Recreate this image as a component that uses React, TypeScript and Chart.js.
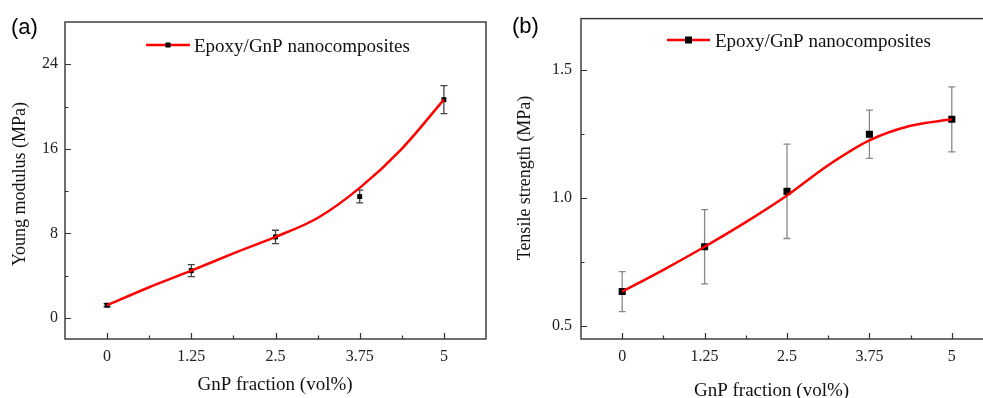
import React, { useEffect, useRef } from 'react';
import { Chart, registerables } from 'chart.js';

Chart.register(...registerables);

// ---------- data ----------
const xValues = [0, 1.25, 2.5, 3.75, 5];
const xTickLabels = ['0', '1.25', '2.5', '3.75', '5'];
const xMinorTicks = [0.625, 1.875, 3.125, 4.375];

const modulusValues = [1.2, 4.47, 7.66, 11.48, 20.65];
const modulusErrors = [0.15, 0.57, 0.63, 0.6, 1.32];
const modulusFitX = [0, 0.625, 1.25, 1.875, 2.5, 3.125, 3.75, 4.375, 5];
const modulusFitY = [1.2, 2.9, 4.47, 6.1, 7.66, 9.45, 12.3, 16.0, 20.65];
const modulusTicks = [0, 8, 16, 24];
const modulusTickLabels = ['0', '8', '16', '24'];
const modulusMinorTicks = [4, 12, 20];

const strengthValues = [0.635, 0.81, 1.026, 1.249, 1.307];
const strengthErrors = [0.078, 0.145, 0.184, 0.094, 0.127];
const strengthFitX = [0, 0.625, 1.25, 1.875, 2.5, 3.125, 3.75, 4.375, 5];
const strengthFitY = [0.635, 0.72, 0.81, 0.906, 1.01, 1.128, 1.225, 1.282, 1.307];
const strengthTicks = [0.5, 1.0, 1.5];
const strengthTickLabels = ['0.5', '1.0', '1.5'];
const strengthMinorTicks = [0.75, 1.25];

const seriesName = 'Epoxy/GnP nanocomposites';
const xTitle = 'GnP fraction (vol%)';

const SERIF = '"Liberation Serif", "Times New Roman", serif';
const SANS = '"Liberation Sans", Arial, sans-serif';

type PanelSpec = {
  left: number;
  width: number;
  height: number;
  area: { left: number; top: number; right: number; bottom: number };
  yMin: number;
  yMax: number;
  yTicks: number[];
  yTickLabels: string[];
  yMinor: number[];
  yTickPad: number;
  yTitle: string;
  yTitlePos: [number, number];
  xTitlePos: [number, number];
  values: number[];
  errors: number[];
  fitX: number[];
  fitY: number[];
  markerRadius: number;
  errColor: string;
  legend: { x1: number; x2: number; y: number; textX: number; textY: number; marker: number };
  tag: string;
  tagPos: [number, number];
};

const panels: PanelSpec[] = [
  {
    left: 0,
    width: 490,
    height: 398,
    area: { left: 65, top: 22, right: 488, bottom: 339 },
    yMin: -2,
    yMax: 28,
    yTicks: modulusTicks,
    yTickLabels: modulusTickLabels,
    yMinor: modulusMinorTicks,
    yTickPad: 7,
    yTitle: 'Young modulus (MPa)',
    yTitlePos: [20, 184],
    xTitlePos: [275, 385],
    values: modulusValues,
    errors: modulusErrors,
    fitX: modulusFitX,
    fitY: modulusFitY,
    markerRadius: 3.5,
    errColor: '#444',
    legend: { x1: 146, x2: 190, y: 45, textX: 194, textY: 52, marker: 5 },
    tag: '(a)',
    tagPos: [11, 28],
  },
  {
    left: 490,
    width: 508,
    height: 398,
    area: { left: 91, top: 15, right: 505.5, bottom: 339 },
    yMin: 0.45,
    yMax: 1.7,
    yTicks: strengthTicks,
    yTickLabels: strengthTickLabels,
    yMinor: strengthMinorTicks,
    yTickPad: 9,
    yTitle: 'Tensile strength (MPa)',
    yTitlePos: [35, 178],
    xTitlePos: [281.5, 391],
    values: strengthValues,
    errors: strengthErrors,
    fitX: strengthFitX,
    fitY: strengthFitY,
    markerRadius: 5,
    errColor: '#888',
    legend: { x1: 177, x2: 220, y: 40, textX: 225, textY: 47, marker: 7 },
    tag: '(b)',
    tagPos: [22, 27],
  },
];

function makeConfig(p: PanelSpec): any {
  const overlay = {
    id: 'overlay',
    beforeDatasetsDraw(chart: any) {
      const ctx = chart.ctx;
      const xs = chart.scales.x;
      const ys = chart.scales.y;
      ctx.save();
      ctx.strokeStyle = p.errColor;
      ctx.lineWidth = 1.3;
      const cap = 3.5;
      p.values.forEach((v, i) => {
        const x = xs.getPixelForValue(xValues[i]);
        const yt = ys.getPixelForValue(v + p.errors[i]);
        const yb = ys.getPixelForValue(v - p.errors[i]);
        ctx.beginPath();
        ctx.moveTo(x, yt);
        ctx.lineTo(x, yb);
        ctx.moveTo(x - cap, yt);
        ctx.lineTo(x + cap, yt);
        ctx.moveTo(x - cap, yb);
        ctx.lineTo(x + cap, yb);
        ctx.stroke();
      });
      ctx.restore();
    },
    afterDraw(chart: any) {
      const ctx = chart.ctx;
      const a = chart.chartArea;
      const xs = chart.scales.x;
      const ys = chart.scales.y;
      ctx.save();
      // frame
      ctx.strokeStyle = '#333';
      ctx.lineWidth = 1.4;
      ctx.strokeRect(a.left, a.top, a.right - a.left, a.bottom - a.top);
      // ticks (inward)
      ctx.lineWidth = 1.2;
      ctx.beginPath();
      xValues.forEach((v) => {
        const x = Math.round(xs.getPixelForValue(v)) + 0.5;
        ctx.moveTo(x, a.bottom);
        ctx.lineTo(x, a.bottom - 6);
      });
      xMinorTicks.forEach((v) => {
        const x = Math.round(xs.getPixelForValue(v)) + 0.5;
        ctx.moveTo(x, a.bottom);
        ctx.lineTo(x, a.bottom - 3.5);
      });
      p.yTicks.forEach((v) => {
        const y = Math.round(ys.getPixelForValue(v)) + 0.5;
        ctx.moveTo(a.left, y);
        ctx.lineTo(a.left + 6, y);
      });
      p.yMinor.forEach((v) => {
        const y = Math.round(ys.getPixelForValue(v)) + 0.5;
        ctx.moveTo(a.left, y);
        ctx.lineTo(a.left + 3.5, y);
      });
      ctx.stroke();

      // legend
      const L = p.legend;
      ctx.strokeStyle = '#ff0000';
      ctx.lineWidth = 2.5;
      ctx.beginPath();
      ctx.moveTo(L.x1, L.y);
      ctx.lineTo(L.x2, L.y);
      ctx.stroke();
      ctx.fillStyle = '#000';
      const mx = (L.x1 + L.x2) / 2;
      ctx.fillRect(mx - L.marker / 2, L.y - L.marker / 2, L.marker, L.marker);
      ctx.fillStyle = '#111';
      ctx.font = `19px ${SERIF}`;
      ctx.textAlign = 'left';
      ctx.textBaseline = 'alphabetic';
      ctx.fillText(seriesName, L.textX, L.textY);

      // axis titles
      ctx.textAlign = 'center';
      ctx.textBaseline = 'middle';
      ctx.font = `19px ${SERIF}`;
      ctx.fillText(xTitle, p.xTitlePos[0], p.xTitlePos[1]);
      ctx.save();
      ctx.translate(p.yTitlePos[0], p.yTitlePos[1]);
      ctx.rotate(-Math.PI / 2);
      ctx.font = `18px ${SERIF}`;
      ctx.fillText(p.yTitle, 0, 0);
      ctx.restore();

      // panel tag
      ctx.fillStyle = '#000';
      ctx.font = `22px ${SANS}`;
      ctx.textAlign = 'left';
      ctx.textBaseline = 'middle';
      ctx.fillText(p.tag, p.tagPos[0], p.tagPos[1]);
      ctx.restore();
    },
  };

  return {
    type: 'line',
    data: {
      datasets: [
        {
          label: seriesName + ' fit',
          data: p.fitX.map((x, i) => ({ x, y: p.fitY[i] })),
          borderColor: '#ff0000',
          borderWidth: 2.5,
          pointRadius: 0,
          fill: false,
          tension: 0.4,
          cubicInterpolationMode: 'monotone',
        },
        {
          label: seriesName,
          type: 'scatter',
          data: xValues.map((x, i) => ({ x, y: p.values[i] })),
          showLine: false,
          pointStyle: 'rect',
          pointRadius: p.markerRadius,
          backgroundColor: '#000',
          borderColor: '#000',
          borderWidth: 0,
        },
      ],
    },
    options: {
      responsive: false,
      animation: false,
      devicePixelRatio: 1,
      layout: {
        padding: {
          left: 0,
          top: p.area.top,
          right: p.width - p.area.right,
          bottom: 0,
        },
      },
      plugins: {
        legend: { display: false },
        tooltip: { enabled: false },
      },
      scales: {
        x: {
          type: 'linear',
          min: -0.625,
          max: 5.625,
          afterBuildTicks: (s: any) => {
            s.ticks = xValues.map((v) => ({ value: v }));
          },
          afterFit: (s: any) => {
            s.height = p.height - p.area.bottom;
          },
          ticks: {
            autoSkip: false,
            maxRotation: 0,
            padding: 8,
            color: '#222',
            font: { family: SERIF, size: 16 },
            callback: (_v: any, i: number) => xTickLabels[i],
          },
          grid: { display: false, drawTicks: false },
          border: { display: false },
        },
        y: {
          type: 'linear',
          min: p.yMin,
          max: p.yMax,
          afterBuildTicks: (s: any) => {
            s.ticks = p.yTicks.map((v) => ({ value: v }));
          },
          afterFit: (s: any) => {
            s.width = p.area.left;
          },
          ticks: {
            autoSkip: false,
            padding: p.yTickPad,
            color: '#222',
            font: { family: SERIF, size: 16 },
            callback: (_v: any, i: number) => p.yTickLabels[i],
          },
          grid: { display: false, drawTicks: false },
          border: { display: false },
        },
      },
    },
    plugins: [overlay],
  };
}

function Panel({ p }: { p: PanelSpec }) {
  const ref = useRef<HTMLCanvasElement>(null);
  useEffect(() => {
    const chart = new Chart(ref.current as HTMLCanvasElement, makeConfig(p));
    return () => chart.destroy();
  }, [p]);
  return (
    <div style={{ position: 'absolute', left: p.left, top: 0, width: p.width, height: p.height }}>
      <canvas ref={ref} width={p.width} height={p.height} style={{ display: 'block', width: p.width, height: p.height }} />
    </div>
  );
}

export default function App() {
  return (
    <div
      style={{
        position: 'absolute',
        left: 0,
        top: 0,
        width: 983,
        height: 398,
        overflow: 'hidden',
        background: '#fff',
      }}
    >
      {panels.map((p) => (
        <Panel key={p.tag} p={p} />
      ))}
    </div>
  );
}
